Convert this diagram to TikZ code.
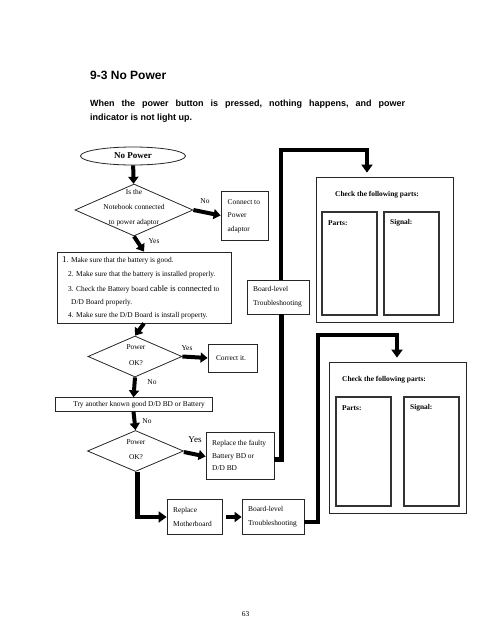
\documentclass[tikz,border=0pt]{standalone}
\usepackage{fontspec}
\setmainfont{Liberation Serif}
\newfontfamily\arialfont{Liberation Sans}
\usetikzlibrary{shapes.geometric,arrows.meta}
\begin{document}
\begin{tikzpicture}[x=1pt,y=-1pt,
  box/.style={draw=black!85,line width=0.8pt,inner sep=0pt,rectangle},
  inbox/.style={draw=black!80,line width=1.1pt,inner sep=0pt,rectangle},
  dia/.style={diamond,draw=black!85,line width=0.8pt,inner sep=0pt},
  txt/.style={inner sep=0pt,font=\fontsize{7.4}{14}\selectfont},
  fat/.style={line width=5pt,line join=miter},
  fatarrow/.style={line width=4.5pt,line join=miter,-{Triangle[width=11pt,length=8pt]}},
  arr/.style={line width=4pt,-{Triangle[width=10pt,length=7pt]}}
]
\useasboundingbox (0,0) rectangle (495,640);

% heading
\node[anchor=base west,inner sep=0pt,font=\arialfont\bfseries\fontsize{12}{14}\selectfont] (title) at (90,79.5) {9-3 No Power};
\node[anchor=base west,inner sep=0pt,text width=315pt,align=left,font=\arialfont\bfseries\fontsize{9}{14}\selectfont] (intro1) at (90,106.5)
 {When\hfill the\hfill power\hfill button\hfill is\hfill pressed,\hfill nothing\hfill happens,\hfill and\hfill power};
\node[anchor=base west,inner sep=0pt,font=\arialfont\bfseries\fontsize{9}{14}\selectfont] (intro2) at (90,120.5) {indicator is not light up.};

% start
\node[ellipse,draw=black!85,line width=0.8pt,inner sep=0pt,minimum width=105pt,minimum height=18pt,font=\bfseries\fontsize{9}{9}\selectfont] (nopower) at (133,156) {No Power};

% decision 1
\node[dia,minimum width=118pt,minimum height=52pt] (d1) at (134,210) {};
\node[txt,align=center,font=\fontsize{7.4}{15}\selectfont] (d1t) at (134,207.5) {Is the\\Notebook connected\\to power adaptor};

\node[box,minimum width=47pt,minimum height=49pt] (c2p) at (244.5,215.5) {};
\node[txt,align=left,anchor=west,font=\fontsize{7.4}{13.5}\selectfont] (c2pt) at (227.5,216) {Connect to\\Power\\adaptor};

% steps
\node[box,minimum width=174pt,minimum height=71pt] (steps) at (144,287.5) {};
\node[txt,anchor=base west] (s1) at (62,262) {{\fontsize{9}{9}\selectfont 1}. Make sure that the battery is good.};
\node[txt,anchor=base west] (s2) at (68,276.5) {2. Make sure that the battery is installed properly.};
\node[txt,anchor=base west] (s3) at (68,291.5) {3. Check the Battery board {\fontsize{8.4}{9}\selectfont cable is connected} to};
\node[txt,anchor=base west] (s4) at (71,304.5) {D/D Board properly.};
\node[txt,anchor=base west] (s5) at (68,317.5) {4. Make sure the D/D Board is install property.};

% decision 2
\node[dia,minimum width=94pt,minimum height=41pt] (d2) at (135,356.5) {};
\node[txt,align=center,font=\fontsize{7.4}{16}\selectfont] (d2t) at (136,355) {Power\\OK?};
\node[box,minimum width=49pt,minimum height=28pt] (correct) at (232.5,358) {};
\node[txt] (correctt) at (231,358) {Correct it.};

% try
\node[box,minimum width=157pt,minimum height=13.5pt] (try) at (133.5,404.5) {};
\node[txt] (tryt) at (139,405) {Try another known good D/D BD or Battery};

% decision 3
\node[dia,minimum width=96pt,minimum height=41pt] (d3) at (135.5,451) {};
\node[txt,align=center,font=\fontsize{7.4}{15}\selectfont] (d3t) at (136,449.5) {Power\\OK?};
\node[box,minimum width=68pt,minimum height=47pt] (replfaulty) at (240,455.5) {};
\node[txt,align=left,anchor=west,font=\fontsize{7.4}{12.7}\selectfont] (replfaultyt) at (212,455.5) {Replace the faulty\\Battery BD or\\D/D BD};

% bottom row
\node[box,minimum width=55pt,minimum height=35pt] (replmb) at (194.5,517) {};
\node[txt,align=left,anchor=west] (replmbt) at (173,517) {Replace\\Motherboard};
\node[box,minimum width=62pt,minimum height=35pt] (bl2) at (273,517) {};
\node[txt,align=left,anchor=west] (bl2t) at (248,517) {Board-level\\Troubleshooting};

% board-level 1
\node[box,minimum width=62pt,minimum height=34pt] (bl1) at (278,297) {};
\node[txt,align=left,anchor=west] (bl1t) at (253,297) {Board-level\\Troubleshooting};

% check box 1
\node[box,minimum width=137pt,minimum height=145pt] (box1) at (384.5,249.5) {};
\node[txt,anchor=west,font=\bfseries\fontsize{7.4}{9}\selectfont] (box1t) at (335,195) {Check the following parts:};
\node[inbox,minimum width=55pt,minimum height=103pt] (parts1) at (349.5,263.5) {};
\node[inbox,minimum width=55pt,minimum height=103pt] (signal1) at (411.5,263.5) {};
\node[txt,anchor=west,font=\bfseries\fontsize{7.4}{9}\selectfont] (parts1t) at (328,223) {Parts:};
\node[txt,anchor=west,font=\bfseries\fontsize{7.4}{9}\selectfont] (signal1t) at (390,223) {Signal:};

% check box 2
\node[box,minimum width=137pt,minimum height=151pt] (box2) at (397.5,437.5) {};
\node[txt,anchor=west,font=\bfseries\fontsize{7.4}{9}\selectfont] (box2t) at (342,380) {Check the following parts:};
\node[inbox,minimum width=55pt,minimum height=109pt] (parts2) at (363.5,451.5) {};
\node[inbox,minimum width=55pt,minimum height=109pt] (signal2) at (431.5,451.5) {};
\node[txt,anchor=west,font=\bfseries\fontsize{7.4}{9}\selectfont] (parts2t) at (342,408) {Parts:};
\node[txt,anchor=west,font=\bfseries\fontsize{7.4}{9}\selectfont] (signal2t) at (410,408) {Signal:};

% page number
\node[txt] (pagenum) at (245.5,614) {63};

% labels
\node[txt] (lno1) at (205,201) {No};
\node[txt] (lyes1) at (154,241) {Yes};
\node[txt] (lyes2) at (187,348) {Yes};
\node[txt] (lno2) at (152,382) {No};
\node[txt] (lno3) at (147,421) {No};
\node[txt,font=\fontsize{9}{9}\selectfont] (lyes3) at (195,440) {Yes};

% coordinates for the thick routes
\coordinate (top1) at (282,150);
\coordinate (top2) at (318,335);

% connectors
\draw[arr] (nopower) -- (d1);
\draw[arr] (d1.east) -- (c2p.west);
\draw[arr] (d1.south) -- (steps.north);
\draw[arr] (steps.south) -- (d2.north);
\draw[arr] (d2.east) -- (correct.west);
\draw[arr] (d2.south) -- (try.north);
\draw[arr] (try.south) -- (d3.north);
\draw[arr] ([yshift=-1pt]d3.east) -- ([yshift=-1pt]replfaulty.west);
\draw[fatarrow] ([xshift=2pt]d3.south) |- ([yshift=0pt]replmb.west);
\draw[arr] ([xshift=4pt]replmb.east) -- (bl2.west);

\draw[fat] ([yshift=-3.5pt]replfaulty.east) -| ([xshift=3pt]bl1.south);
\draw[fatarrow,shorten >=4pt] ([xshift=3pt]bl1.north) |- (top1) -| ([xshift=-17.5pt]box1.north);
\draw[fatarrow,shorten >=4pt] ([yshift=-5pt]bl2.east) -| (top2) -| ([xshift=-0.5pt]box2.north);
\end{tikzpicture}
\end{document}
